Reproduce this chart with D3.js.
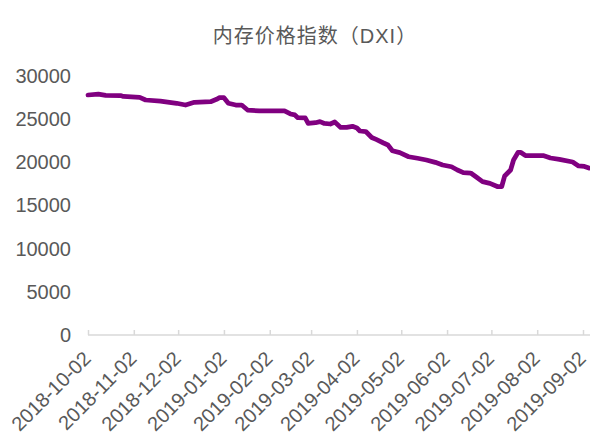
<!DOCTYPE html>
<html><head><meta charset="utf-8">
<script src="https://cdn.jsdelivr.net/npm/d3@7"></script>
<style>
html,body{margin:0;padding:0;background:#fff;}
text{font-family:"Liberation Sans",Arial,"Noto Sans CJK SC",sans-serif;}
</style></head>
<body>
<script>
const title = "内存价格指数（DXI）";
const dates = ["2018-10-02","2018-10-09","2018-10-14","2018-10-24","2018-10-26","2018-11-06","2018-11-10","2018-11-20","2018-12-01","2018-12-07","2018-12-13","2018-12-24","2018-12-28","2018-12-30","2019-01-02","2019-01-05","2019-01-10","2019-01-14","2019-01-18","2019-01-26","2019-02-12","2019-02-16","2019-02-19","2019-02-21","2019-02-26","2019-02-28","2019-03-05","2019-03-08","2019-03-11","2019-03-15","2019-03-18","2019-03-22","2019-03-26","2019-03-30","2019-04-02","2019-04-04","2019-04-08","2019-04-12","2019-04-15","2019-04-20","2019-04-23","2019-04-26","2019-05-01","2019-05-07","2019-05-13","2019-05-19","2019-05-25","2019-05-30","2019-06-05","2019-06-09","2019-06-13","2019-06-18","2019-06-22","2019-06-26","2019-07-01","2019-07-06","2019-07-09","2019-07-11","2019-07-15","2019-07-17","2019-07-20","2019-07-22","2019-07-25","2019-08-06","2019-08-11","2019-08-17","2019-08-26","2019-08-30","2019-09-03","2019-09-06"];
const dxi = [27800,27900,27750,27740,27630,27530,27220,27100,26840,26640,26950,27020,27300,27490,27490,26840,26640,26640,26060,25950,25950,25600,25490,25170,25140,24500,24590,24710,24500,24440,24670,24040,24040,24170,23980,23630,23570,22880,22650,22240,22010,21350,21120,20650,20470,20270,20000,19690,19490,19110,18800,18760,18270,17760,17570,17200,17200,18420,19110,20270,21140,21140,20790,20790,20500,20350,20040,19580,19520,19340];
const xTickLabels = ["2018-10-02","2018-11-02","2018-12-02","2019-01-02","2019-02-02","2019-03-02","2019-04-02","2019-05-02","2019-06-02","2019-07-02","2019-08-02","2019-09-02"];
const yTicks = [0,5000,10000,15000,20000,25000,30000];

const W = 590, H = 435;
const parse = d3.timeParse("%Y-%m-%d");
const data = dates.map((d,i)=>({date:parse(d), v:dxi[i]}));

const svg = d3.select("body").append("svg").attr("width",W).attr("height",H);

const x = d3.scaleTime().domain([parse("2018-10-02"), parse("2019-09-02")]).range([88, 583]);
const y = d3.scaleLinear().domain([0,30000]).range([335, 76]);

svg.append("text").attr("x",315).attr("y",43).attr("text-anchor","middle")
  .attr("font-size",20).attr("fill","#595959").attr("letter-spacing",1).text(title);

// y axis labels
const yAxis = d3.axisLeft(y).tickValues(yTicks).tickSize(0).tickPadding(0).tickFormat(d3.format("d"));
const gy = svg.append("g").attr("transform","translate(71,0)").call(yAxis);
gy.select(".domain").remove();
gy.selectAll("text").attr("font-size",20).attr("fill","#595959").attr("font-family",null);

// x axis
const xAxis = d3.axisBottom(x).tickValues(xTickLabels.map(parse)).tickSize(-5).tickFormat("");
const gx = svg.append("g").attr("transform","translate(0,335)").call(xAxis);
gx.select(".domain").remove();
gx.selectAll(".tick line").attr("stroke","#d9d9d9").attr("stroke-width",1.5);
gx.append("line").attr("x1",88).attr("x2",590).attr("y1",0).attr("y2",0)
  .attr("stroke","#d9d9d9").attr("stroke-width",1.5);

svg.append("g").selectAll("text").data(xTickLabels).join("text")
  .attr("transform",d=>`translate(${x(parse(d))+4},${360}) rotate(-45)`)
  .attr("text-anchor","end").attr("font-size",20).attr("fill","#595959")
  .text(d=>d);

const line = d3.line().x(d=>x(d.date)).y(d=>y(d.v)).curve(d3.curveLinear);
svg.append("path").datum(data).attr("d",line).attr("fill","none")
  .attr("stroke","#800080").attr("stroke-width",4.75)
  .attr("stroke-linejoin","round").attr("stroke-linecap","round");
</script>
</body></html>
